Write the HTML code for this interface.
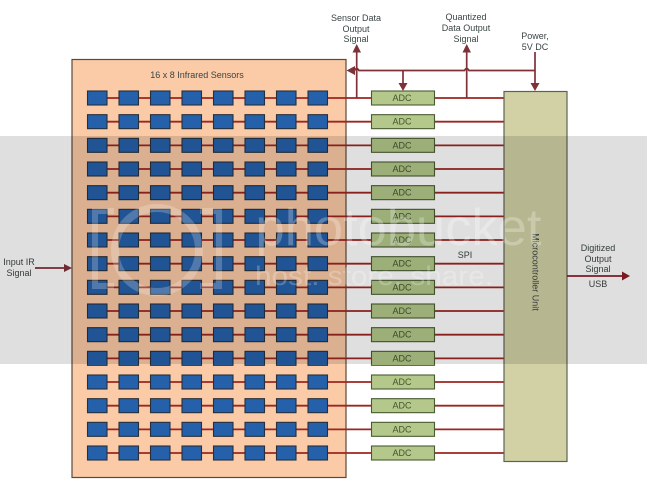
<!DOCTYPE html>
<html><head><meta charset="utf-8"><style>
html,body{margin:0;padding:0;background:#fff;width:647px;height:500px;overflow:hidden}
svg{display:block;filter:blur(.35px)}
text{font-family:"Liberation Sans",sans-serif;font-size:9px;fill:#3c4444;text-anchor:middle}
</style></head><body>
<svg width="647" height="500" viewBox="0 0 647 500" xmlns="http://www.w3.org/2000/svg">
<rect x="72" y="59.5" width="274" height="418" fill="#fbcaa6" stroke="#5a4a3c" stroke-width="1.2"/>
<text x="197" y="78">16 x 8 Infrared Sensors</text>
<g id="lines" stroke="#9c2620" stroke-width="1.8" fill="none">
<path d="M107 98H504M107 121.7H504M107 145.4H504M107 169H504M107 192.7H504M107 216.4H504M107 240H504M107 263.7H504M107 287.4H504M107 311H504M107 334.7H504M107 358.4H504M107 382H504M107 405.7H504M107 429.4H504M107 453H504"/>
</g>
<g fill="#2560aa" stroke="#27303c" stroke-width="1.1">
<g id="r"><rect x="87.5" y="91" width="19.5" height="14"/><rect x="119" y="91" width="19.5" height="14"/><rect x="150.5" y="91" width="19.5" height="14"/><rect x="182" y="91" width="19.5" height="14"/><rect x="213.5" y="91" width="19.5" height="14"/><rect x="245" y="91" width="19.5" height="14"/><rect x="276.5" y="91" width="19.5" height="14"/><rect x="308" y="91" width="19.5" height="14"/></g>
<use href="#r" y="23.67"/><use href="#r" y="47.33"/><use href="#r" y="71"/><use href="#r" y="94.67"/><use href="#r" y="118.33"/><use href="#r" y="142"/><use href="#r" y="165.67"/><use href="#r" y="189.33"/><use href="#r" y="213"/><use href="#r" y="236.67"/><use href="#r" y="260.33"/><use href="#r" y="284"/><use href="#r" y="307.67"/><use href="#r" y="331.33"/><use href="#r" y="355"/>
</g>
<g fill="#b3c88a" stroke="#4a5c32" stroke-width="1.1">
<rect x="371.5" y="91" width="63" height="14"/><rect x="371.5" y="114.67" width="63" height="14"/><rect x="371.5" y="138.33" width="63" height="14"/><rect x="371.5" y="162" width="63" height="14"/><rect x="371.5" y="185.67" width="63" height="14"/><rect x="371.5" y="209.33" width="63" height="14"/><rect x="371.5" y="233" width="63" height="14"/><rect x="371.5" y="256.67" width="63" height="14"/><rect x="371.5" y="280.33" width="63" height="14"/><rect x="371.5" y="304" width="63" height="14"/><rect x="371.5" y="327.67" width="63" height="14"/><rect x="371.5" y="351.33" width="63" height="14"/><rect x="371.5" y="375" width="63" height="14"/><rect x="371.5" y="398.67" width="63" height="14"/><rect x="371.5" y="422.33" width="63" height="14"/><rect x="371.5" y="446" width="63" height="14"/>
</g>
<g>
<text x="402" y="101" style="fill:#44552f">ADC</text><text x="402" y="124.7" style="fill:#44552f">ADC</text><text x="402" y="148.3" style="fill:#44552f">ADC</text><text x="402" y="172" style="fill:#44552f">ADC</text><text x="402" y="195.7" style="fill:#44552f">ADC</text><text x="402" y="219.3" style="fill:#44552f">ADC</text><text x="402" y="243" style="fill:#44552f">ADC</text><text x="402" y="266.7" style="fill:#44552f">ADC</text><text x="402" y="290.3" style="fill:#44552f">ADC</text><text x="402" y="314" style="fill:#44552f">ADC</text><text x="402" y="337.7" style="fill:#44552f">ADC</text><text x="402" y="361.3" style="fill:#44552f">ADC</text><text x="402" y="385" style="fill:#44552f">ADC</text><text x="402" y="408.7" style="fill:#44552f">ADC</text><text x="402" y="432.3" style="fill:#44552f">ADC</text><text x="402" y="456" style="fill:#44552f">ADC</text>
</g>
<rect x="504" y="91.5" width="63" height="370" fill="#d1d1a5" stroke="#5e6350" stroke-width="1.2"/>
<text transform="translate(532.5 272) rotate(90)">Microcontroller Unit</text>
<g stroke="#7e3238" stroke-width="1.7" fill="none">
<path d="M352 70.5H354.5Q356.7 66.5 358.9 70.5H464.5Q466.7 66.5 468.9 70.5H535"/>
<path d="M356.7 98V52M466.7 98V52M535 52V84M403 70.5V84M35 268H64"/>
</g>
<g fill="#7e3238">
<path d="M346.5 70.5L355 66V75Z"/>
<path d="M356.7 44L352.5 52.5H361Z"/>
<path d="M466.7 44L462.5 52.5H471Z"/>
<path d="M535 91L530.5 83H539.5Z"/>
<path d="M403 91L398.5 83H407.5Z"/>
<path d="M72 268L64 264V272Z"/>
</g>
<path d="M567 276H622" stroke="#8c1f2a" stroke-width="1.8" fill="none"/>
<path d="M630 276L622 271.5V280.5Z" fill="#8c1f2a"/>
<text x="356" y="21">Sensor Data</text><text x="356" y="32">Output</text><text x="356" y="42">Signal</text>
<text x="466" y="20">Quantized</text><text x="466" y="31">Data Output</text><text x="466" y="42">Signal</text>
<text x="535" y="39">Power,</text><text x="535" y="50">5V DC</text>
<text x="19" y="265">Input IR</text><text x="19" y="276">Signal</text>
<text x="465" y="258">SPI</text>
<text x="598" y="251">Digitized</text><text x="598" y="262">Output</text><text x="598" y="272">Signal</text><text x="598" y="287">USB</text>
<rect x="0" y="136" width="647" height="228" fill="#000" fill-opacity="0.125"/>
<g fill="none" stroke="#fff" stroke-opacity="0.22" stroke-width="6">
<path d="M114 211H95V286H114"/><path d="M200 211H219V286H200"/>
<circle cx="157" cy="250" r="42" stroke-width="8"/>
</g>
<text x="398.5" y="245" style="font-size:52px;fill:#fff;fill-opacity:.26" textLength="286" lengthAdjust="spacingAndGlyphs">photobucket</text>
<text x="374" y="285" style="font-size:27px;fill:#fff;fill-opacity:.24" textLength="238" lengthAdjust="spacingAndGlyphs">host. store. share.</text>
</svg>
</body></html>
